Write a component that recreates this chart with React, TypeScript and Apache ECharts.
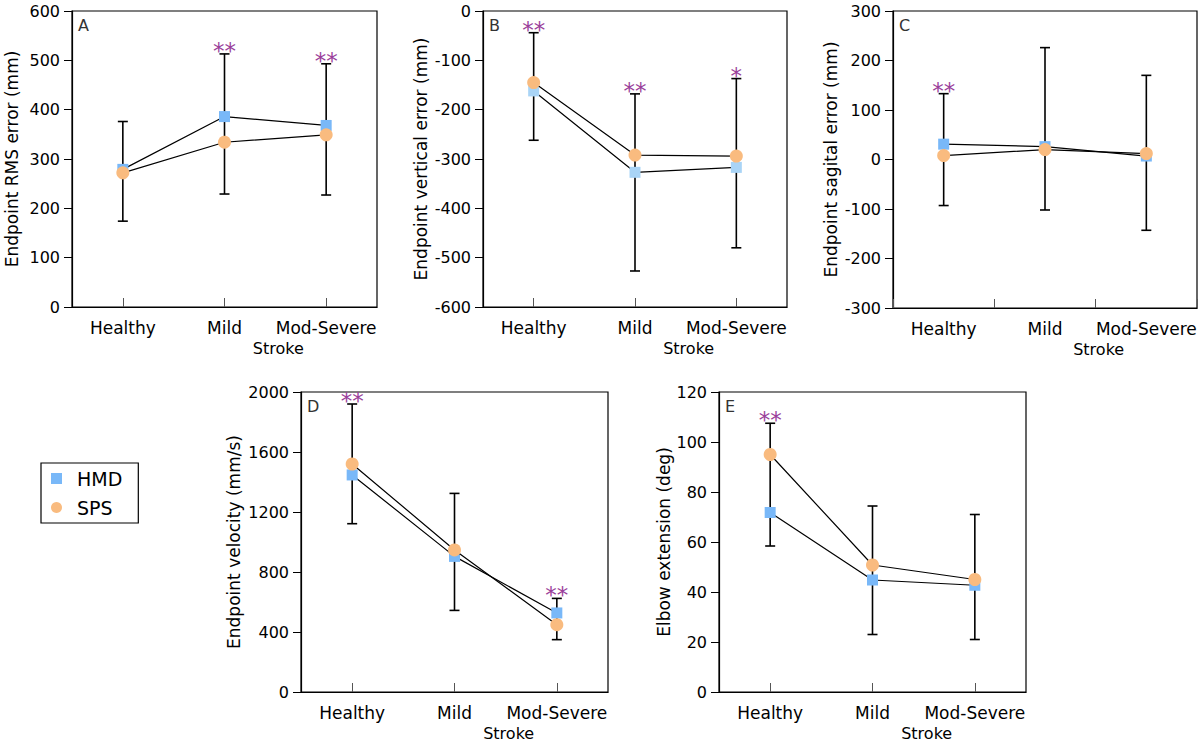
import React, { useEffect, useRef } from "react";
import * as echarts from "echarts";

// ---------- data ----------
const categories = ["Healthy", "Mild", "Mod-Severe"];

// A: Endpoint RMS error (mm)
const rmsHMD = [279, 386, 368];
const rmsSPS = [272, 334, 349];
const rmsLow = [174, 229, 227];
const rmsHigh = [376, 513, 493];
const rmsStars = ["", "**", "**"];
const rmsTicks = { min: 0, max: 600, interval: 100 };

// B: Endpoint vertical error (mm)
const vertHMD = [-162, -327, -317];
const vertSPS = [-145, -292, -294];
const vertLow = [-262, -527, -480];
const vertHigh = [-44, -168, -137];
const vertStars = ["**", "**", "*"];
const vertTicks = { min: -600, max: 0, interval: 100 };

// C: Endpoint sagital error (mm)
const sagHMD = [31, 26, 7];
const sagSPS = [8, 20, 12];
const sagLow = [-93, -102, -143];
const sagHigh = [133, 226, 170];
const sagStars = ["**", "", ""];
const sagTicks = { min: -300, max: 300, interval: 100 };

// D: Endpoint velocity (mm/s)
const velHMD = [1447, 904, 527];
const velSPS = [1520, 947, 449];
const velLow = [1122, 544, 349];
const velHigh = [1920, 1324, 624];
const velStars = ["**", "", "**"];
const velTicks = { min: 0, max: 2000, interval: 400 };

// E: Elbow extension (deg)
const elbHMD = [71.8, 44.8, 42.7];
const elbSPS = [95, 50.8, 45];
const elbLow = [58.4, 23, 21];
const elbHigh = [107.5, 74.4, 71];
const elbStars = ["**", "", ""];
const elbTicks = { min: 0, max: 120, interval: 20 };

const seriesNames = ["HMD", "SPS"];

// ---------- styling ----------
const FONT = "DejaVu Sans";
const BLUE = "#79b8f8";
const BLUE_LIGHT = "#a9d4f6";
const ORANGE = "#f9bb7f";
const STAR = "#9b3f9b";

const panels = [
  { letter: "A", title: "Endpoint RMS error (mm)", hmd: rmsHMD, sps: rmsSPS, low: rmsLow, high: rmsHigh, stars: rmsStars, ticks: rmsTicks,
    grid: { left: 72, top: 11, width: 305, height: 296 }, nameGap: 52, blue: BLUE, alignTicks: true },
  { letter: "B", title: "Endpoint vertical error (mm)", hmd: vertHMD, sps: vertSPS, low: vertLow, high: vertHigh, stars: vertStars, ticks: vertTicks,
    grid: { left: 483, top: 11, width: 304, height: 296 }, nameGap: 54, blue: BLUE_LIGHT, alignTicks: true },
  { letter: "C", title: "Endpoint sagital error (mm)", hmd: sagHMD, sps: sagSPS, low: sagLow, high: sagHigh, stars: sagStars, ticks: sagTicks,
    grid: { left: 893, top: 11, width: 304, height: 297 }, nameGap: 54, blue: BLUE, alignTicks: false },
  { letter: "D", title: "Endpoint velocity (mm/s)", hmd: velHMD, sps: velSPS, low: velLow, high: velHigh, stars: velStars, ticks: velTicks,
    grid: { left: 301, top: 392, width: 307, height: 300 }, nameGap: 59, blue: BLUE, alignTicks: true },
  { letter: "E", title: "Elbow extension (deg)", hmd: elbHMD, sps: elbSPS, low: elbLow, high: elbHigh, stars: elbStars, ticks: elbTicks,
    grid: { left: 719, top: 392, width: 307, height: 300 }, nameGap: 47, blue: BLUE, alignTicks: true },
];

function buildOption() {
  const grid: any[] = [];
  const xAxis: any[] = [];
  const yAxis: any[] = [];
  const series: any[] = [];
  const graphic: any[] = [];

  panels.forEach((p, i) => {
    grid.push({
      ...p.grid,
      show: true,
      borderColor: "#000",
      borderWidth: 1.2,
      backgroundColor: "transparent",
      outerBoundsMode: "none",
      containLabel: false,
    });
    xAxis.push({
      type: "category",
      gridIndex: i,
      position: "bottom",
      data: categories,
      boundaryGap: true,
      axisLine: { show: true, onZero: false, lineStyle: { color: "#000", width: 1.2 } },
      axisTick: { show: true, inside: true, length: 9, alignWithLabel: p.alignTicks, lineStyle: { color: "#555", width: 1 } },
      axisLabel: { interval: 0, fontFamily: FONT, fontSize: 17, color: "#000", margin: 12 },
      splitLine: { show: false },
    });
    yAxis.push({
      type: "value",
      gridIndex: i,
      position: "left",
      min: p.ticks.min,
      max: p.ticks.max,
      interval: p.ticks.interval,
      name: p.title,
      nameLocation: "middle",
      nameGap: p.nameGap,
      nameRotate: 90,
      nameTextStyle: { fontFamily: FONT, fontSize: 17, color: "#000" },
      axisLine: { show: true, onZero: false, lineStyle: { color: "#000", width: 1.2 } },
      axisTick: { show: true, inside: false, length: 8, lineStyle: { color: "#000", width: 1 } },
      axisLabel: { fontFamily: FONT, fontSize: 16, color: "#000", margin: 12, formatter: (v: number) => String(v) },
      splitLine: { show: false },
    });

    const stars = p.stars;
    series.push({
      type: "custom",
      xAxisIndex: i,
      yAxisIndex: i,
      silent: true,
      z: 1,
      clip: false,
      data: p.low.map((l, j) => [j, l, p.high[j]]),
      renderItem: (params: any, api: any) => {
        const idx = api.value(0);
        const lo = api.coord([idx, api.value(1)]);
        const hi = api.coord([idx, api.value(2)]);
        const cap = 5;
        const ls = { stroke: "#000", lineWidth: 1.6 };
        const children: any[] = [
          { type: "line", shape: { x1: lo[0], y1: lo[1], x2: hi[0], y2: hi[1] }, style: ls },
          { type: "line", shape: { x1: hi[0] - cap, y1: hi[1], x2: hi[0] + cap, y2: hi[1] }, style: ls },
          { type: "line", shape: { x1: lo[0] - cap, y1: lo[1], x2: lo[0] + cap, y2: lo[1] }, style: ls },
        ];
        const s = stars[params.dataIndex];
        if (s) {
          children.push({
            type: "text",
            x: hi[0],
            y: hi[1] - 3,
            style: { text: s, fill: STAR, fontSize: 23, fontFamily: FONT, align: "center", verticalAlign: "middle" },
          });
        }
        return { type: "group", children };
      },
    });
    series.push({
      type: "line",
      name: seriesNames[0],
      xAxisIndex: i,
      yAxisIndex: i,
      data: p.hmd,
      symbol: "rect",
      symbolSize: 11,
      lineStyle: { color: "#000", width: 1.2 },
      itemStyle: { color: p.blue },
      emphasis: { disabled: true },
      z: 3,
    });
    series.push({
      type: "line",
      name: seriesNames[1],
      xAxisIndex: i,
      yAxisIndex: i,
      data: p.sps,
      symbol: "circle",
      symbolSize: 13,
      lineStyle: { color: "#000", width: 1.2 },
      itemStyle: { color: ORANGE },
      emphasis: { disabled: true },
      z: 4,
    });

    const g = p.grid;
    graphic.push({
      type: "text",
      left: g.left + 6,
      top: g.top + 6,
      style: { text: p.letter, fontFamily: FONT, fontSize: 16, fill: "#333" },
    });
    graphic.push({
      type: "text",
      x: g.left + (g.width * 2) / 3 + 3,
      y: g.top + g.height + 41,
      style: { text: "Stroke", fontFamily: FONT, fontSize: 16, fill: "#000", align: "center", verticalAlign: "middle" },
    });
  });

  return {
    animation: false,
    backgroundColor: "#fff",
    grid,
    xAxis,
    yAxis,
    series,
    graphic,
    legend: {
      data: [
        { name: "HMD", icon: "rect" },
        { name: "SPS", icon: "circle" },
      ],
      orient: "vertical",
      left: 41,
      top: 463,
      borderColor: "#000",
      borderWidth: 1.2,
      padding: [6, 16, 6, 10],
      itemWidth: 11,
      itemHeight: 11,
      itemGap: 10,
      selectedMode: false,
      textStyle: { fontFamily: FONT, fontSize: 19, color: "#000", padding: [0, 0, 0, 10] },
    },
  };
}

export default function App() {
  const ref = useRef<HTMLDivElement>(null);
  useEffect(() => {
    if (!ref.current) return;
    const chart = echarts.init(ref.current, undefined, { renderer: "svg" });
    chart.setOption(buildOption() as any);
    return () => chart.dispose();
  }, []);
  return (
    <div
      ref={ref}
      style={{ position: "absolute", left: 0, top: 0, width: 1200, height: 741, background: "#fff" }}
    />
  );
}
